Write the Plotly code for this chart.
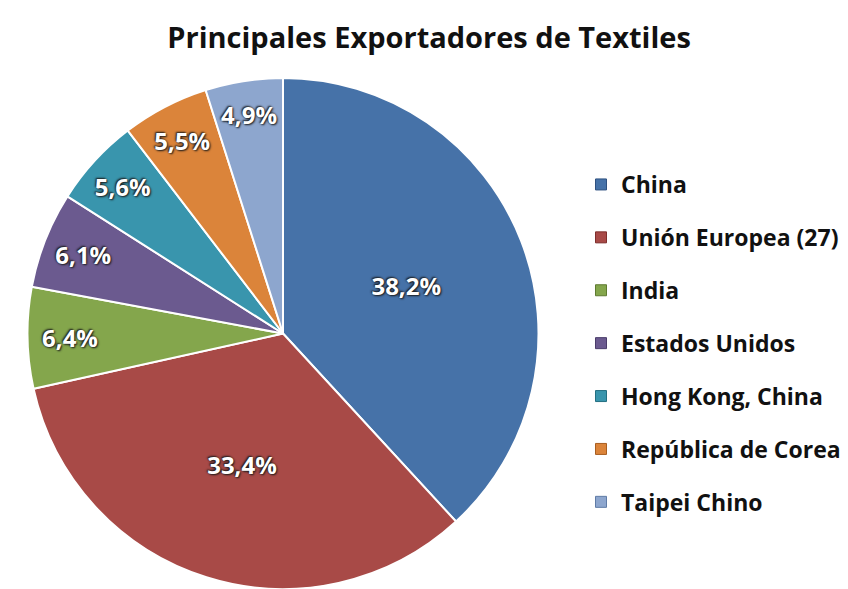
import plotly.graph_objects as go

# Textile export shares (%)
paises = ["China", "Unión Europea (27)", "India", "Estados Unidos",
          "Hong Kong, China", "República de Corea", "Taipei Chino"]
cuotas = [38.2, 33.4, 6.4, 6.1, 5.6, 5.5, 4.9]
colores = ["#4672A8", "#A84A47", "#84A64C", "#6B5A8F", "#3995AD", "#DB843A", "#8DA6CE"]
bordes = ["#2E5080", "#7E2E2C", "#5E7A30", "#4A3C6A", "#236F82", "#A85E20", "#5F7BA6"]

etiquetas = [f"{v:.1f}".replace(".", ",") + "%" for v in cuotas]

fig = go.Figure()

fig.add_trace(go.Pie(
    labels=paises,
    values=cuotas,
    text=etiquetas,
    textinfo="text",
    textposition="inside",
    insidetextorientation="horizontal",
    sort=False,
    direction="clockwise",
    rotation=0,
    marker=dict(colors=colores, line=dict(color="white", width=2)),
    textfont=dict(family="Open Sans", size=24, color="white", weight="bold",
                  shadow="1px 1px 2px #1a1a1a, -1px -1px 2px #1a1a1a"),
    showlegend=False,
    hoverinfo="label+percent",
    domain=dict(x=[27.5 / 848, 538.5 / 848], y=[0, 1 - 78 / 589]),
))

# Legend entries, one group each so they can be spaced apart
for i, (p, c, b) in enumerate(zip(paises, colores, bordes)):
    fig.add_trace(go.Scatter(
        x=[None], y=[None], mode="markers", name=p,
        legendgroup=f"g{i}",
        marker=dict(symbol="square", size=11, color=c, line=dict(color=b, width=1)),
    ))

fig.update_layout(
    width=848, height=589,
    margin=dict(l=0, r=0, t=0, b=0),
    paper_bgcolor="white", plot_bgcolor="white",
    title=dict(text="Principales Exportadores de Textiles",
               x=0.506, xanchor="center", y=1 - 38 / 589, yanchor="middle",
               font=dict(family="Open Sans", size=29, color="#111", weight="bold")),
    xaxis=dict(visible=False), yaxis=dict(visible=False),
    legend=dict(x=581 / 848, xanchor="left", y=1 - 163 / 589, yanchor="top",
                font=dict(family="Open Sans", size=23, color="#111", weight="bold"),
                tracegroupgap=20, itemwidth=30,
                bgcolor="rgba(0,0,0,0)"),
)

fig.write_html("out.html")
